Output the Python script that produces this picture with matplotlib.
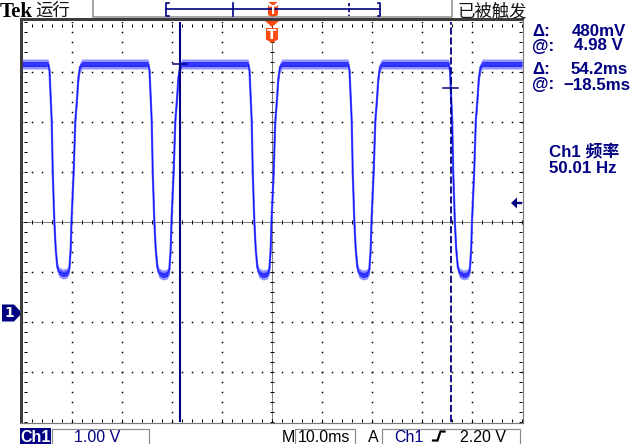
import numpy as np
import matplotlib
matplotlib.use('Agg')
import matplotlib.pyplot as plt
from matplotlib.patches import Polygon, Rectangle
import matplotlib.transforms as mtransforms

# ---------------- data ----------------
time_ms = [
    -50.0,
    -44.8, -44.5, -44.06, -43.86, -43.54, -43.26, -42.94, -42.6, -41.8, -41.0,
    -40.54, -40.26, -40.1, -39.66, -39.34, -39.0, -38.74, -38.4, -38.0,
    -24.8, -24.5, -24.06, -23.86, -23.54, -23.26, -22.94, -22.6, -21.8, -21.0,
    -20.54, -20.26, -20.1, -19.66, -19.34, -19.0, -18.74, -18.4, -18.0,
    -4.8, -4.5, -4.06, -3.86, -3.54, -3.26, -2.94, -2.6, -1.8, -1.0,
    -0.54, -0.26, -0.1, 0.34, 0.66, 1.0, 1.26, 1.6, 2.0,
    15.2, 15.5, 15.94, 16.14, 16.46, 16.74, 17.06, 17.4, 18.2, 19.0,
    19.46, 19.74, 19.9, 20.34, 20.66, 21.0, 21.26, 21.6, 22.0,
    35.3, 35.6, 36.04, 36.24, 36.56, 36.84, 37.16, 37.5, 38.3, 39.1,
    39.56, 39.84, 40.0, 40.44, 40.76, 41.1, 41.36, 41.7, 42.1,
    50.0,
]
ch1_volts = [
    4.98,
    4.98, 4.85, 3.84, 2.84, 1.84, 1.28, 0.92, 0.82, 0.78, 0.80,
    0.88, 1.28, 1.84, 2.84, 3.84, 4.28, 4.68, 4.92, 4.98,
    4.98, 4.85, 3.84, 2.84, 1.84, 1.28, 0.92, 0.80, 0.76, 0.78,
    0.86, 1.28, 1.84, 2.84, 3.84, 4.28, 4.68, 4.92, 4.98,
    4.98, 4.85, 3.84, 2.84, 1.84, 1.28, 0.92, 0.80, 0.76, 0.78,
    0.86, 1.28, 1.84, 2.84, 3.84, 4.28, 4.68, 4.92, 4.98,
    4.98, 4.85, 3.84, 2.84, 1.84, 1.28, 0.92, 0.80, 0.76, 0.78,
    0.86, 1.28, 1.84, 2.84, 3.84, 4.28, 4.68, 4.92, 4.98,
    4.98, 4.85, 3.84, 2.84, 1.84, 1.28, 0.92, 0.80, 0.76, 0.78,
    0.86, 1.28, 1.84, 2.84, 3.84, 4.28, 4.68, 4.92, 4.98,
    4.98,
]
volts_per_div = 1.00
ms_per_div = 10.0
ground_div = -1.82          # channel-1 ground marker position (divisions)
trigger_level = 2.20        # V
cursor_times = [-18.5, 35.7]       # ms
cursor_volts = [4.98, 4.50]        # V
readouts = ["\u0394:", "@:", "\u0394:", "@:"]
readout_values = ["480mV", "4.98 V", "54.2ms", "\u221218.5ms"]
freq_label = "Ch1 \u9891\u7387"
freq_value = "50.01 Hz"

# ---------------- figure ----------------
W, H = 633, 444
fig = plt.figure(figsize=(W / 100, H / 100), dpi=100)
fig.patch.set_facecolor('white')

L, R, T, B = 22, 522, 22, 422
pos = [L / W, (H - B) / H, (R - L) / W, (B - T) / H]

NAVY = '#000080'
ORANGE = '#ff4a10'
PX = 0.72  # points per pixel

# graticule axes in divisions
ax_g = fig.add_axes(pos)
ax_g.set_xlim(-5, 5)
ax_g.set_ylim(-4, 4)
ax_g.axis('off')

minor = np.round(np.arange(-5, 5.001, 0.2), 3)
minor_y = np.round(np.arange(-4, 4.001, 0.2), 3)
for xv in range(-4, 5):
    if xv == 0:
        continue
    ax_g.plot(np.full_like(minor_y, xv), minor_y, 's', ms=1.1, mew=0, color='black')
for yv in range(-3, 4):
    if yv == 0:
        continue
    ax_g.plot(minor, np.full_like(minor, yv), 's', ms=1.1, mew=0, color='black')
# center cross, dotted with ticks
ax_g.plot([-5, 5], [0, 0], color='black', lw=PX, ls=(0, (1, 1)))
ax_g.plot([0, 0], [-4, 4], color='black', lw=PX, ls=(0, (1, 1)))
ax_g.plot(minor, np.zeros_like(minor), '|', ms=5 * PX, mew=PX, color='black')
ax_g.plot(np.zeros_like(minor_y), minor_y, '_', ms=5 * PX, mew=PX, color='black')
# edge ticks
ax_g.plot(np.full_like(minor_y, -5 + 0.06), minor_y, '_', ms=3 * PX, mew=PX, color='black')
ax_g.plot(np.full_like(minor_y, 5 - 0.04), minor_y, '_', ms=3 * PX, mew=PX, color='black')
ax_g.plot(minor, np.full_like(minor, 4 - 0.06), '|', ms=3 * PX, mew=PX, color='black')
ax_g.plot(minor, np.full_like(minor, -4 + 0.04), '|', ms=3 * PX, mew=PX, color='black')

# trace axes in ms / volts
ax = fig.add_axes(pos)
ax.set_xlim(-5 * ms_per_div, 5 * ms_per_div)
ax.set_ylim((-4 - ground_div) * volts_per_div, (4 - ground_div) * volts_per_div)
ax.axis('off')
ax.patch.set_alpha(0)

t = np.array(time_ms)
v = np.array(ch1_volts)
ax.fill_between(t, v - 0.10, v + 0.10, color='#9494ff', lw=0, zorder=2)
ax.fill_between(t, v - 0.05, v + 0.05, color='#2828ff', lw=0, zorder=3)
ax.plot(t, v, color='#6a6aff', lw=1.6, zorder=3.5, solid_joinstyle='round')
ax.plot(t, v, color='#0a14ff', lw=0.8, zorder=4, solid_joinstyle='round')

# cursors
ax.axvline(cursor_times[0], color=NAVY, lw=1.5, zorder=6)
ax.axvline(cursor_times[1], color=NAVY, lw=1.3, ls=(0, (4, 1.5)), zorder=6)
ax.plot([cursor_times[0] - 1.4, cursor_times[0] + 1.4], [cursor_volts[0]] * 2,
        color=NAVY, lw=1.1, zorder=7)
ax.plot([cursor_times[1] - 1.6, cursor_times[1] + 1.4], [cursor_volts[1]] * 2,
        color=NAVY, lw=1.1, zorder=7)

# overlay axes in pixel coordinates for the instrument UI
ax_o = fig.add_axes([0, 0, 1, 1])
ax_o.set_xlim(0, W)
ax_o.set_ylim(H, 0)
ax_o.axis('off')
ax_o.patch.set_alpha(0)

# screen border
ax_o.add_patch(Rectangle((19.5, 18), 3, 405, color='#3c3c3c', lw=0))
ax_o.add_patch(Rectangle((19.5, 18), 504, 3, color='#3c3c3c', lw=0))
ax_o.plot([523, 523], [20, 423], color='#7a7a7a', lw=1.2 * PX)
ax_o.plot([20, 523], [423, 423], color='#7a7a7a', lw=1.2 * PX)

# top bar
ax_o.plot([93, 93, 452, 452], [0, 17, 17, 0], color='#8a8a8a', lw=1.5 * PX)
ax_o.text(0, 17, 'Tek', family='Liberation Serif', weight='bold', fontsize=15,
          color='black', va='baseline', ha='left')
ax_o.text(35, 16, '\u8fd0\u884c', family=['Noto Sans CJK SC', 'DejaVu Sans'], fontsize=12.5,
          color='#111111', va='baseline', ha='left')
ax_o.text(457, 16, '\u5df2\u88ab\u89e6\u53d1', family=['Noto Sans CJK SC', 'DejaVu Sans'],
          fontsize=12.5, color='#111111', va='baseline', ha='left')

bar_l, bar_r = 166, 380
ax_o.plot([bar_l + 2.5, bar_l, bar_l, bar_l + 2.5], [3, 3, 16, 16], color=NAVY, lw=1.2)
ax_o.plot([bar_r - 2.5, bar_r, bar_r, bar_r - 2.5], [3, 3, 16, 16], color=NAVY, lw=1.2)
ax_o.plot([bar_l, bar_r], [9.5, 9.5], color=NAVY, lw=1.2)
def bar_x(tm):
    return bar_l + (tm + 5 * ms_per_div) / (10 * ms_per_div) * (bar_r - bar_l)
ax_o.plot([bar_x(cursor_times[0])] * 2, [3, 16], color=NAVY, lw=1.2)
ax_o.plot([bar_x(cursor_times[1])] * 2, [3, 16], color=NAVY, lw=1.2, ls=(0, (2, 1.5)))

# trigger position markers (T)
tx = bar_x(0.0)
ax_o.add_patch(Polygon([[tx - 4.5, 2], [tx + 4.5, 2], [tx, 6]], color=ORANGE, lw=0))
ax_o.add_patch(Polygon([[tx - 5, 5.5], [tx + 5, 5.5], [tx + 5, 15], [tx, 17.5], [tx - 5, 15]],
                       color=ORANGE, lw=0))
ax_o.text(tx, 14.5, 'T', color='white', fontsize=8.5, weight='bold', ha='center',
          va='baseline', family='DejaVu Sans')
sx = L + 0.5 * (R - L)
ax_o.add_patch(Polygon([[sx - 7, 21], [sx + 7, 21], [sx, 27]], color=ORANGE, lw=0))
ax_o.add_patch(Polygon([[sx - 6, 28], [sx + 6, 28], [sx + 6, 39.5], [sx, 43], [sx - 6, 39.5]],
                       color=ORANGE, lw=0))
ax_o.text(sx, 39, 'T', color='white', fontsize=10, weight='bold', ha='center',
          va='baseline', family='DejaVu Sans')

# ground marker (1) and trigger level arrow using volts for vertical position
blend = mtransforms.blended_transform_factory(ax_o.transData, ax.transData)
pxv = volts_per_div / 50.0
g = 0.0
ax.add_patch(Polygon([[2, g + 8.5 * pxv], [14, g + 8.5 * pxv], [22, g], [14, g - 8.5 * pxv],
                      [2, g - 8.5 * pxv]], closed=True, color=NAVY, lw=0,
                     transform=blend, clip_on=False, zorder=8))
ax.text(9, g, '1', transform=blend, color='white', fontsize=10, weight='bold',
        ha='center', va='center', family='DejaVu Sans', zorder=9, clip_on=False)
tl = trigger_level
ax.add_patch(Polygon([[511, tl], [517, tl + 5.5 * pxv], [517, tl + 1.2 * pxv],
                      [522, tl + 1.2 * pxv], [522, tl - 1.2 * pxv], [517, tl - 1.2 * pxv],
                      [517, tl - 5.5 * pxv]],
                     closed=True, color=NAVY, lw=0, transform=blend, clip_on=False, zorder=8))

# right readout panel
panel_font = dict(family='Liberation Sans', weight='bold', fontsize=12.2, color=NAVY,
                  va='baseline')
rows_y = [36, 50.5, 74, 89.5]
vals_x = [572, 574, 571, 563]
for lab, val, yy, xx in zip(readouts, readout_values, rows_y, vals_x):
    ax_o.text(532, yy, lab, ha='left', **panel_font)
    ax_o.text(xx, yy, val, ha='left', **panel_font)
ax_o.text(549, 157, freq_label, ha='left', family=['Liberation Sans', 'Noto Sans CJK SC'],
          weight='bold', fontsize=12.2, color=NAVY, va='baseline')
ax_o.text(549, 172.5, freq_value, ha='left', **panel_font)

# bottom status bar
ax_o.add_patch(Rectangle((20, 428), 31, 17, color=NAVY, lw=0))
ax_o.text(35.5, 441.5, 'Ch1', color='white', fontsize=11.5, weight='bold', ha='center',
          va='baseline', family='Liberation Sans')
box_kw = dict(fill=False, ec='#8a8a8a', lw=1.2 * PX)
ax_o.add_patch(Rectangle((52, 428.5), 97, 17, **box_kw))
ax_o.text(74, 441.5, '%.2f V' % volts_per_div, color=NAVY, fontsize=11.5, ha='left',
          va='baseline', family='Liberation Sans')
ax_o.text(282, 441.5, 'M', color='black', fontsize=11.5, ha='left', va='baseline',
          family='Liberation Sans')
ax_o.add_patch(Rectangle((295, 428.5), 60, 17, **box_kw))
ax_o.text(298, 441.5, '%.1fms' % ms_per_div, color='black', fontsize=11.5, ha='left',
          va='baseline', family='Liberation Sans')
ax_o.text(368, 441.5, 'A', color='black', fontsize=11.5, ha='left', va='baseline',
          family='Liberation Sans')
ax_o.add_patch(Rectangle((382, 428.5), 138, 17, **box_kw))
ax_o.text(394, 441.5, 'Ch1', color=NAVY, fontsize=11.5, ha='left', va='baseline',
          family='Liberation Sans')
ax_o.plot([433, 437.5, 440.5, 444.5], [440.5, 440.5, 431.5, 431.5], color='black', lw=1.6,
          solid_joinstyle='miter')
ax_o.text(460, 441.5, '%.2f V' % trigger_level, color='black', fontsize=11.5, ha='left',
          va='baseline', family='Liberation Sans')

fig.savefig('out.png', dpi=100, facecolor='white')
